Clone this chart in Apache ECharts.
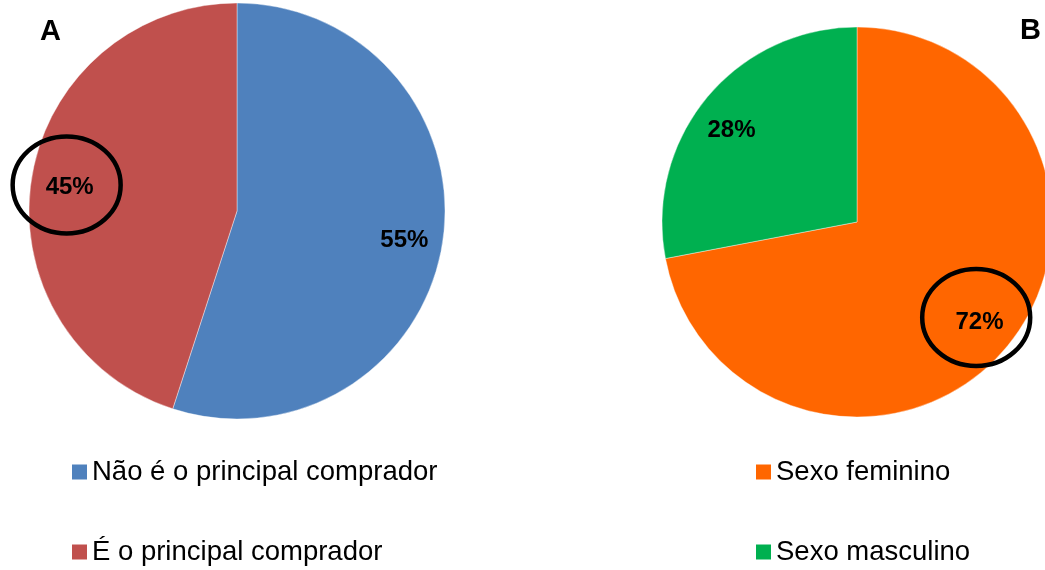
<!DOCTYPE html>
<html>
<head>
<meta charset="utf-8">
<script src="https://cdn.jsdelivr.net/npm/echarts@6/dist/echarts.min.js"></script>
<style>
  html, body { margin: 0; padding: 0; background: #fff; }
  #chart { width: 1045px; height: 570px; }
</style>
</head>
<body>
<div id="chart"></div>
<script>
// Panel A: who does the shopping
const buyerNames = ['Não é o principal comprador', 'É o principal comprador'];
const buyerValues = [55, 45];
const buyerColors = ['#4F81BD', '#C0504D'];

// Panel B: sex of respondents
const sexNames = ['Sexo feminino', 'Sexo masculino'];
const sexValues = [72, 28];
const sexColors = ['#FF6600', '#00B050'];

// Panel letters
const panelLetters = ['A', 'B'];

const FONT = "'Liberation Sans', Arial, Helvetica, sans-serif";

// Pie geometry (pixels)
const pieA = { center: [237, 211], radius: 208 };
const pieB = { center: [857, 222], radius: 195 };
const LABEL_RATIO = 0.8; // labels sit at 80% of the radius

// Small nudges for the percentage labels
const labelNudgeA = [[0, 3], [0, 3]];
const labelNudgeB = [[0, -1], [-3, 10]];

function toData(names, values, colors) {
  return names.map((n, i) => ({ name: n, value: values[i], itemStyle: { color: colors[i] } }));
}

// Pixel position of a slice label (clockwise from 12 o'clock)
function sliceAnchor(pie, values, idx) {
  const total = values.reduce((a, b) => a + b, 0);
  let before = 0;
  for (let i = 0; i < idx; i++) before += values[i];
  const mid = (before + values[idx] / 2) / total * 2 * Math.PI;
  const d = pie.radius * LABEL_RATIO;
  return [pie.center[0] + d * Math.sin(mid), pie.center[1] - d * Math.cos(mid)];
}

function pieSeries(pie, names, values, colors) {
  return {
    type: 'pie',
    center: pie.center,
    radius: [0, pie.radius],
    startAngle: 90,
    clockwise: true,
    silent: true,
    label: { show: false },
    labelLine: { show: false },
    itemStyle: { borderColor: '#ffffff', borderWidth: 0.4 },
    emphasis: { disabled: true },
    data: toData(names, values, colors)
  };
}

// Transparent ring used only to place the percentage labels at 80% radius
function labelRing(pie, names, values, nudges) {
  return {
    type: 'pie',
    center: pie.center,
    radius: [pie.radius * (2 * LABEL_RATIO - 1), pie.radius],
    startAngle: 90,
    clockwise: true,
    silent: true,
    itemStyle: { color: 'rgba(0,0,0,0)' },
    label: {
      show: true,
      position: 'inside',
      formatter: '{c}%',
      color: '#000',
      fontFamily: FONT,
      fontWeight: 'bold',
      fontSize: 24
    },
    labelLine: { show: false },
    emphasis: { disabled: true },
    data: names.map((n, i) => ({ name: n, value: values[i], label: { offset: nudges[i] } }))
  };
}

function legend(names, colors, left) {
  return {
    orient: 'vertical',
    left: left,
    top: 457,
    padding: 0,
    itemWidth: 15,
    itemHeight: 15,
    itemGap: 50,
    icon: 'rect',
    selectedMode: false,
    itemStyle: { borderWidth: 0 },
    textStyle: { fontFamily: FONT, fontSize: 27.5, color: '#000', lineHeight: 30 },
    data: names.map((n, i) => ({ name: n, itemStyle: { color: colors[i], borderWidth: 0 } }))
  };
}

const ancA = sliceAnchor(pieA, buyerValues, 1);
const ancB = sliceAnchor(pieB, sexValues, 0);

const ring = (c) => ({
  type: 'ellipse',
  shape: { cx: c[0], cy: c[1], rx: 54, ry: 48.5 },
  style: { fill: null, stroke: '#000', lineWidth: 4.5 },
  silent: true,
  z: 100
});

const option = {
  backgroundColor: '#ffffff',
  animation: false,
  title: [
    { text: panelLetters[0], left: 40, top: 17, padding: 0,
      textStyle: { fontFamily: FONT, fontWeight: 'bold', fontSize: 29, color: '#000', lineHeight: 29 } },
    { text: panelLetters[1], left: 1020, top: 16, padding: 0,
      textStyle: { fontFamily: FONT, fontWeight: 'bold', fontSize: 29, color: '#000', lineHeight: 29 } }
  ],
  legend: [
    legend(buyerNames, buyerColors, 72),
    legend(sexNames, sexColors, 756)
  ],
  series: [
    pieSeries(pieA, buyerNames, buyerValues, buyerColors),
    pieSeries(pieB, sexNames, sexValues, sexColors),
    labelRing(pieA, buyerNames, buyerValues, labelNudgeA),
    labelRing(pieB, sexNames, sexValues, labelNudgeB)
  ],
  graphic: [
    ring([ancA[0] - 6, ancA[1]]),
    ring([ancB[0] - 1, ancB[1] - 4])
  ]
};

const chart = echarts.init(document.getElementById('chart'), null, { renderer: 'canvas' });
chart.setOption(option);
</script>
</body>
</html>
